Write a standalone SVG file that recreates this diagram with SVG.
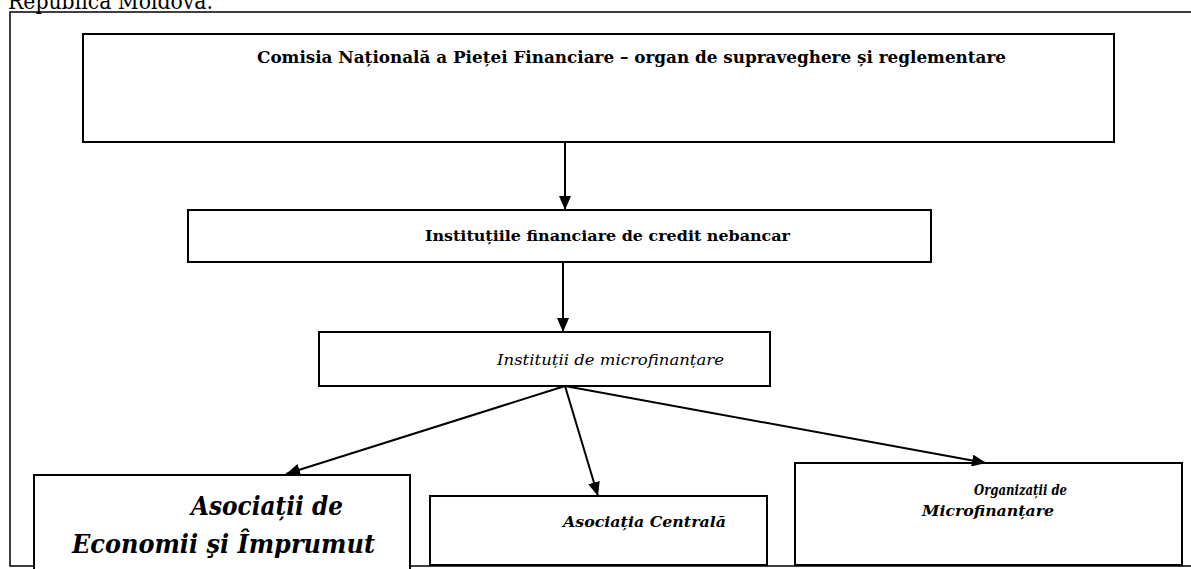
<svg xmlns="http://www.w3.org/2000/svg" width="1191" height="569" viewBox="0 0 1191 569">
<style>
.box{fill:#fff;stroke:#000;stroke-width:2}
.frame{fill:none;stroke:#000;stroke-width:1.5}
text{font-family:'DejaVu Serif','Liberation Serif',serif;fill:#000}
.b{font-weight:bold}
.i{font-style:italic}
.con{stroke:#000;stroke-width:2;fill:none;marker-end:url(#ah)}
</style>
<defs>
<marker id="ah" viewBox="0 0 14 12" refX="14" refY="6" markerWidth="14" markerHeight="12" markerUnits="userSpaceOnUse" orient="auto">
<path d="M0,0 L14,6 L0,12 Z" fill="#000"/>
</marker>
</defs>
<text x="8" y="9" font-size="22" textLength="205" lengthAdjust="spacingAndGlyphs">Republica Moldova.</text>
<path class="frame" d="M1191,12 H10 V566 H34 M410,566 H1191"/>
<g id="cnpf">
<rect class="box" x="83" y="34" width="1031" height="108"/>
<text class="b" x="257" y="63" font-size="16" textLength="749" lengthAdjust="spacingAndGlyphs">Comisia Națională a Pieței Financiare – organ de supraveghere și reglementare</text>
</g>
<g id="ifcn">
<rect class="box" x="188" y="210" width="743" height="52"/>
<text class="b" x="425" y="241" font-size="15" textLength="365" lengthAdjust="spacingAndGlyphs">Instituțiile financiare de credit nebancar</text>
</g>
<g id="im">
<rect class="box" x="319" y="332" width="451" height="54"/>
<text class="i" x="497" y="365" font-size="15" textLength="227" lengthAdjust="spacingAndGlyphs">Instituții de microfinanțare</text>
</g>
<g id="aei">
<rect class="box" x="34" y="475" width="376" height="110"/>
<text class="b i" x="191" y="515" font-size="26" textLength="152" lengthAdjust="spacingAndGlyphs">Asociații de</text>
<text class="b i" x="72" y="553" font-size="26" textLength="303" lengthAdjust="spacingAndGlyphs">Economii şi Împrumut</text>
</g>
<g id="ac">
<rect class="box" x="430" y="496" width="337" height="69"/>
<text class="b i" x="563" y="527" font-size="15" textLength="163" lengthAdjust="spacingAndGlyphs">Asociația Centrală</text>
</g>
<g id="om">
<rect class="box" x="795" y="463" width="387" height="102"/>
<text class="b i" x="974" y="495" font-size="15" textLength="93" lengthAdjust="spacingAndGlyphs">Organizații de</text>
<text class="b i" x="922" y="516" font-size="15" textLength="132" lengthAdjust="spacingAndGlyphs">Microfinanțare</text>
</g>
<g id="connectors">
<line class="con" x1="565" y1="142" x2="565" y2="210"/>
<line class="con" x1="563" y1="262" x2="563" y2="332"/>
<line class="con" x1="565" y1="386" x2="286" y2="474"/>
<line class="con" x1="565" y1="386" x2="598" y2="496"/>
<line class="con" x1="565" y1="386" x2="986" y2="463"/>
</g>
</svg>
